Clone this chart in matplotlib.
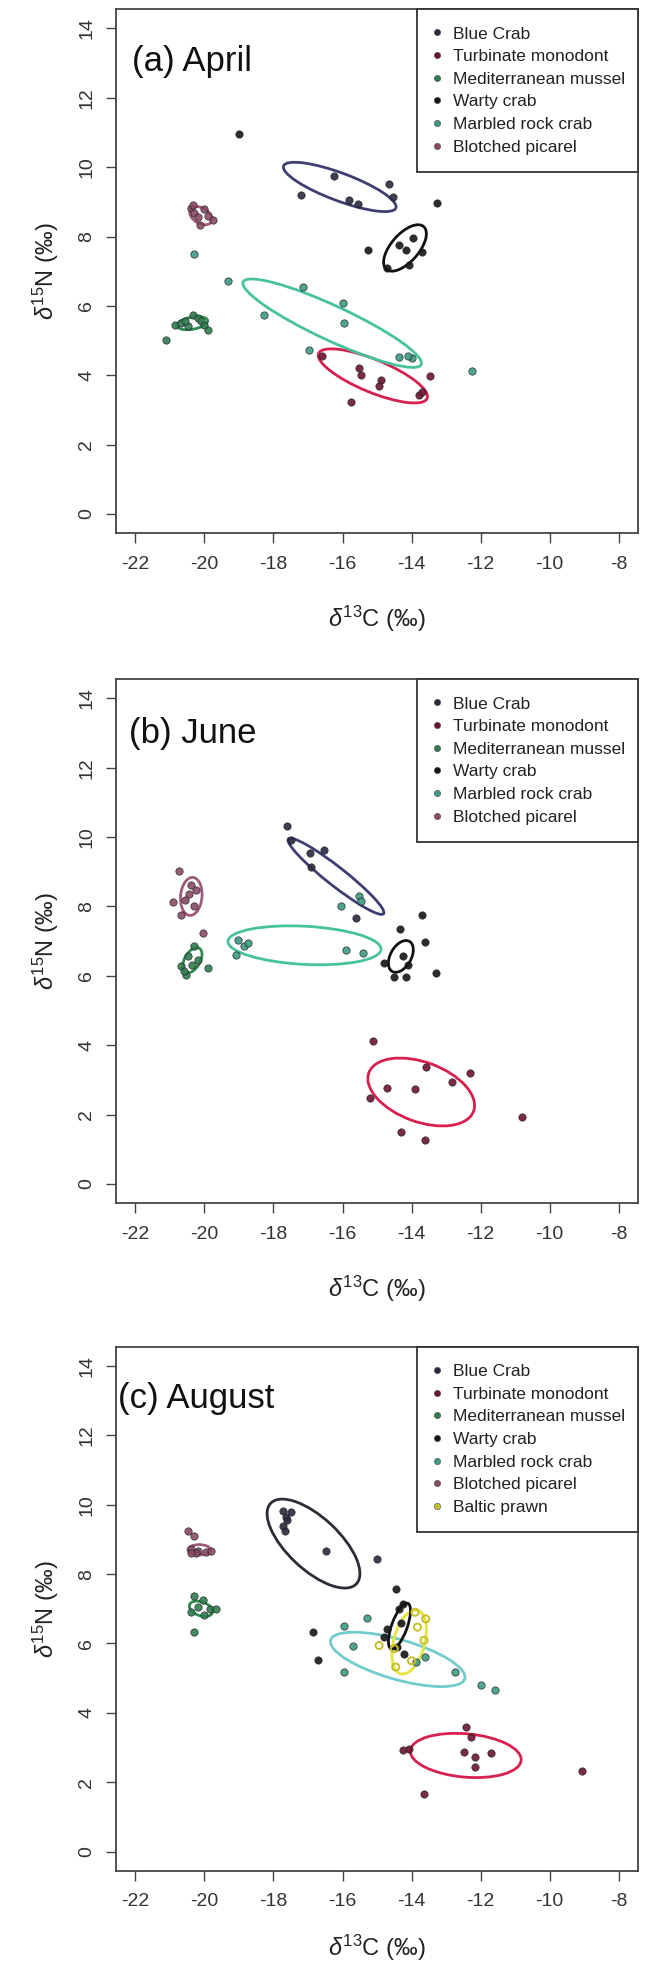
import matplotlib
matplotlib.use('Agg')
import matplotlib.pyplot as plt
from matplotlib.patches import Ellipse
from matplotlib.lines import Line2D

plt.rcParams['font.family'] = ['Liberation Sans', 'DejaVu Sans']
plt.rcParams['mathtext.fontset'] = 'custom'
plt.rcParams['mathtext.rm'] = 'Liberation Sans'
plt.rcParams['mathtext.it'] = 'Liberation Sans:italic'
plt.rcParams['mathtext.bf'] = 'Liberation Sans:bold'

# ---------------- data ----------------
species = ["Blue Crab", "Turbinate monodont", "Mediterranean mussel",
           "Warty crab", "Marbled rock crab", "Blotched picarel", "Baltic prawn"]
xticks = [-22, -20, -18, -16, -14, -12, -10, -8]
yticks = [0, 2, 4, 6, 8, 10, 12, 14]
panel_titles = ["(a) April", "(b) June", "(c) August"]

# April
apr_bluecrab_x = [-17.2, -16.25, -15.8, -15.55, -14.65, -14.55]
apr_bluecrab_y = [9.2, 9.75, 9.05, 8.95, 9.5, 9.15]
apr_turbinate_x = [-16.58, -15.52, -15.47, -14.89, -14.94, -13.78, -13.69, -13.46, -15.76]
apr_turbinate_y = [4.54, 4.21, 4.01, 3.87, 3.68, 3.44, 3.53, 3.97, 3.24]
apr_mussel_x = [-20.86, -20.67, -20.48, -20.33, -20.19, -20.09, -19.9, -20.0, -20.55, -21.1]
apr_mussel_y = [5.46, 5.5, 5.41, 5.75, 5.65, 5.55, 5.31, 5.45, 5.55, 5.02]
apr_warty_x = [-13.25, -15.26, -13.95, -13.69, -14.7, -14.07, -14.35, -14.15, -19.0]
apr_warty_y = [8.97, 7.62, 7.96, 7.55, 7.09, 7.19, 7.75, 7.6, 10.95]
apr_marbled_x = [-17.13, -16.0, -15.95, -18.26, -16.96, -14.36, -13.98, -14.1, -19.32, -20.3, -12.26]
apr_marbled_y = [6.54, 6.08, 5.52, 5.73, 4.74, 4.52, 4.49, 4.55, 6.73, 7.51, 4.11]
apr_picarel_x = [-20.38, -20.29, -20.14, -19.9, -19.76, -20.0, -20.2, -20.33]
apr_picarel_y = [8.83, 8.68, 8.34, 8.59, 8.49, 8.78, 8.55, 8.9]

# June
jun_bluecrab_x = [-17.6, -17.49, -16.93, -16.53, -16.9, -15.62]
jun_bluecrab_y = [10.31, 9.92, 9.54, 9.63, 9.15, 7.66]
jun_turbinate_x = [-15.12, -14.71, -13.9, -13.57, -12.82, -12.31, -15.2, -14.31, -13.62, -10.8]
jun_turbinate_y = [4.11, 2.76, 2.73, 3.38, 2.95, 3.21, 2.47, 1.51, 1.27, 1.94]
jun_mussel_x = [-20.29, -20.48, -20.67, -20.53, -20.19, -19.9, -20.6, -20.35]
jun_mussel_y = [6.85, 6.56, 6.27, 6.03, 6.46, 6.22, 6.15, 6.3]
jun_warty_x = [-13.69, -14.33, -13.62, -14.26, -14.79, -14.5, -14.17, -14.1, -13.3]
jun_warty_y = [7.76, 7.35, 6.99, 6.56, 6.37, 5.98, 5.98, 6.3, 6.08]
jun_marbled_x = [-19.03, -18.84, -18.75, -19.08, -15.9, -15.42, -15.52, -15.45, -16.05]
jun_marbled_y = [7.04, 6.85, 6.95, 6.61, 6.75, 6.65, 8.29, 8.15, 8.0]
jun_picarel_x = [-20.74, -20.38, -20.24, -20.57, -20.67, -20.91, -20.29, -20.45, -20.04]
jun_picarel_y = [9.03, 8.62, 8.48, 8.19, 7.76, 8.14, 8.0, 8.35, 7.23]

# August
aug_bluecrab_x = [-17.73, -17.64, -17.73, -17.49, -17.68, -17.6, -16.48, -14.99]
aug_bluecrab_y = [9.83, 9.64, 9.4, 9.78, 9.25, 9.55, 8.66, 8.44]
aug_turbinate_x = [-14.26, -14.07, -12.43, -12.28, -12.48, -12.15, -12.15, -11.71, -13.65, -9.05]
aug_turbinate_y = [2.92, 2.97, 3.58, 3.31, 2.88, 2.73, 2.44, 2.83, 1.66, 2.33]
aug_mussel_x = [-20.29, -20.05, -20.38, -19.85, -19.66, -20.0, -20.29, -20.2]
aug_mussel_y = [7.38, 7.24, 6.9, 7.0, 7.0, 6.81, 6.33, 7.05]
aug_warty_x = [-14.46, -14.26, -14.36, -14.7, -14.8, -14.41, -14.22, -14.3, -16.86, -16.71]
aug_warty_y = [7.57, 7.14, 7.0, 6.42, 6.18, 5.9, 5.7, 6.6, 6.33, 5.53]
aug_marbled_x = [-15.28, -15.95, -15.71, -15.95, -12.73, -12.0, -11.57, -13.88, -13.6]
aug_marbled_y = [6.74, 6.49, 5.94, 5.18, 5.18, 4.79, 4.65, 5.47, 5.6]
aug_picarel_x = [-20.48, -20.29, -20.38, -20.19, -19.95, -20.25, -19.8, -20.4]
aug_picarel_y = [9.25, 9.11, 8.72, 8.68, 8.63, 8.6, 8.68, 8.6]
aug_prawn_x = [-13.59, -14.94, -14.46, -13.64, -13.83, -14.0, -14.5, -13.9]
aug_prawn_y = [6.71, 5.94, 5.32, 6.09, 6.47, 5.5, 5.85, 6.9]

# standard ellipses (species, centre x, centre y, width, height, angle)
apr_ell_species = ["Blue Crab", "Warty crab", "Turbinate monodont", "Marbled rock crab",
                   "Mediterranean mussel", "Blotched picarel"]
apr_ell_cx = [-16.08, -14.19, -15.12, -16.3, -20.35, -20.1]
apr_ell_cy = [9.43, 7.67, 3.98, 5.5, 5.5, 8.6]
apr_ell_w = [3.47, 1.64, 3.4, 5.68, 0.9, 0.7]
apr_ell_h = [0.8, 0.8, 0.94, 1.0, 0.35, 0.45]
apr_ell_ang = [-20.4, 48.6, -22.4, -24.8, 10, -30]

jun_ell_species = ["Blue Crab", "Blotched picarel", "Mediterranean mussel",
                   "Marbled rock crab", "Warty crab", "Turbinate monodont"]
jun_ell_cx = [-16.19, -20.38, -20.35, -17.1, -14.31, -13.72]
jun_ell_cy = [8.87, 8.29, 6.45, 6.88, 6.56, 2.65]
jun_ell_w = [3.5, 1.1, 0.8, 4.44, 1.0, 3.23]
jun_ell_h = [0.54, 0.62, 0.45, 1.1, 0.6, 1.72]
jun_ell_ang = [-38, 85, 60, -3, 60, -20]

aug_ell_species = ["Blue Crab", "Marbled rock crab", "Baltic prawn", "Warty crab",
                   "Turbinate monodont", "Mediterranean mussel", "Blotched picarel"]
aug_ell_cx = [-16.84, -14.4, -14.07, -14.35, -12.43, -20.1, -20.15]
aug_ell_cy = [8.88, 5.54, 6.04, 6.5, 2.77, 7.0, 8.7]
aug_ell_w = [3.4, 4.04, 1.9, 1.4, 3.22, 0.7, 0.65]
aug_ell_h = [1.5, 1.15, 0.9, 0.45, 1.25, 0.4, 0.3]
aug_ell_ang = [-43, -16, 75, 70, -5, -20, 0]

# ---------------- styles ----------------
ell_color = {"Blue Crab": "#3e3e72", "Turbinate monodont": "#d8204e",
             "Mediterranean mussel": "#2e8b4e", "Warty crab": "#111111",
             "Marbled rock crab": "#46c29c", "Blotched picarel": "#a05a7a",
             "Baltic prawn": "#e4e43a"}
aug_ell_color = {"Blue Crab": "#2c2c36", "Marbled rock crab": "#72cccc"}
pt_color = {"Blue Crab": "#2a2a40", "Turbinate monodont": "#6e1430",
            "Mediterranean mussel": "#2f7d50", "Warty crab": "#151515",
            "Marbled rock crab": "#3a9a84", "Blotched picarel": "#8a4a66",
            "Baltic prawn": "#c8bf28"}

panels = [
    dict(title=panel_titles[0], n=6, override={}, xl=-0.135,
         pts=[("Blue Crab", apr_bluecrab_x, apr_bluecrab_y),
              ("Turbinate monodont", apr_turbinate_x, apr_turbinate_y),
              ("Mediterranean mussel", apr_mussel_x, apr_mussel_y),
              ("Warty crab", apr_warty_x, apr_warty_y),
              ("Marbled rock crab", apr_marbled_x, apr_marbled_y),
              ("Blotched picarel", apr_picarel_x, apr_picarel_y)],
         ell=(apr_ell_species, apr_ell_cx, apr_ell_cy, apr_ell_w, apr_ell_h, apr_ell_ang),
         bottom=0.7283, tx=0.030, ty=0.899),
    dict(title=panel_titles[1], n=6, override={}, xl=-0.135,
         pts=[("Blue Crab", jun_bluecrab_x, jun_bluecrab_y),
              ("Turbinate monodont", jun_turbinate_x, jun_turbinate_y),
              ("Mediterranean mussel", jun_mussel_x, jun_mussel_y),
              ("Warty crab", jun_warty_x, jun_warty_y),
              ("Marbled rock crab", jun_marbled_x, jun_marbled_y),
              ("Blotched picarel", jun_picarel_x, jun_picarel_y)],
         ell=(jun_ell_species, jun_ell_cx, jun_ell_cy, jun_ell_w, jun_ell_h, jun_ell_ang),
         bottom=0.3870, tx=0.024, ty=0.897),
    dict(title=panel_titles[2], n=7, override=aug_ell_color, xl=-0.118,
         pts=[("Blue Crab", aug_bluecrab_x, aug_bluecrab_y),
              ("Turbinate monodont", aug_turbinate_x, aug_turbinate_y),
              ("Mediterranean mussel", aug_mussel_x, aug_mussel_y),
              ("Warty crab", aug_warty_x, aug_warty_y),
              ("Marbled rock crab", aug_marbled_x, aug_marbled_y),
              ("Blotched picarel", aug_picarel_x, aug_picarel_y),
              ("Baltic prawn", aug_prawn_x, aug_prawn_y)],
         ell=(aug_ell_species, aug_ell_cx, aug_ell_cy, aug_ell_w, aug_ell_h, aug_ell_ang),
         bottom=0.0469, tx=0.004, ty=0.902),
]

fig = plt.figure(figsize=(6.6, 19.63), dpi=100)
fig.patch.set_facecolor('white')

for p in panels:
    ax = fig.add_axes([0.1758, p['bottom'], 0.7909, 0.2671])
    ax.set_xlim(-22.56, -7.44)
    ax.set_ylim(-0.56, 14.56)
    ax.set_xticks(xticks)
    ax.set_yticks(yticks)
    ax.set_xticklabels([str(v) for v in xticks])
    ax.set_yticklabels([str(v) for v in yticks], rotation=90, va='center')
    ax.tick_params(axis='both', direction='out', length=7, width=1.0,
                   color='#444444', labelsize=14, labelcolor='#333333')
    ax.tick_params(axis='x', pad=9)
    ax.tick_params(axis='y', pad=8)
    for s in ax.spines.values():
        s.set_color('#444444')
        s.set_linewidth(1.3)

    sp_names, cx, cy, w, h, ang = p['ell']
    for i in range(len(sp_names)):
        col = p['override'].get(sp_names[i], ell_color[sp_names[i]])
        e = Ellipse((cx[i], cy[i]), w[i], h[i], angle=ang[i], fill=False,
                    edgecolor=col, linewidth=2.0, zorder=2)
        ax.add_patch(e)

    for name, xs, ys in p['pts']:
        if name == "Baltic prawn":
            ax.scatter(xs, ys, s=26, facecolors='none', edgecolors=pt_color[name],
                       linewidths=1.4, zorder=4)
        else:
            ax.scatter(xs, ys, s=28, c=pt_color[name], edgecolors='#222222',
                       linewidths=0.5, zorder=3, alpha=0.9)

    ax.text(p['tx'], p['ty'], p['title'], transform=ax.transAxes, fontsize=25,
            ha='left', va='center', color='#111111')

    handles = [Line2D([], [], ls='', marker='o', markersize=4.5,
                      markerfacecolor=pt_color[nm], markeredgecolor='#444444',
                      markeredgewidth=0.4)
               for nm in species[:p['n']]]
    leg = ax.legend(handles, species[:p['n']], loc='upper left',
                    bbox_to_anchor=(0.5766, 0.0, 0.4234, 1.0), mode='expand',
                    borderaxespad=0, fontsize=12.5, frameon=True, fancybox=False,
                    edgecolor='#333333', framealpha=1, handlelength=0.3,
                    handletextpad=0.8, labelspacing=0.43, borderpad=1.0)
    leg.get_frame().set_linewidth(1.3)
    for t in leg.get_texts():
        t.set_color('#222222')

    ax.set_xlabel(r'$\delta^{13}$C (‰)', fontsize=17, color='#222222')
    ax.set_ylabel(r'$\delta^{15}$N (‰)', fontsize=17, color='#222222')
    ax.xaxis.set_label_coords(0.5, p['xl'])
    ax.yaxis.set_label_coords(-0.105, 0.5)

fig.savefig('out.png', dpi=100, facecolor='white')
